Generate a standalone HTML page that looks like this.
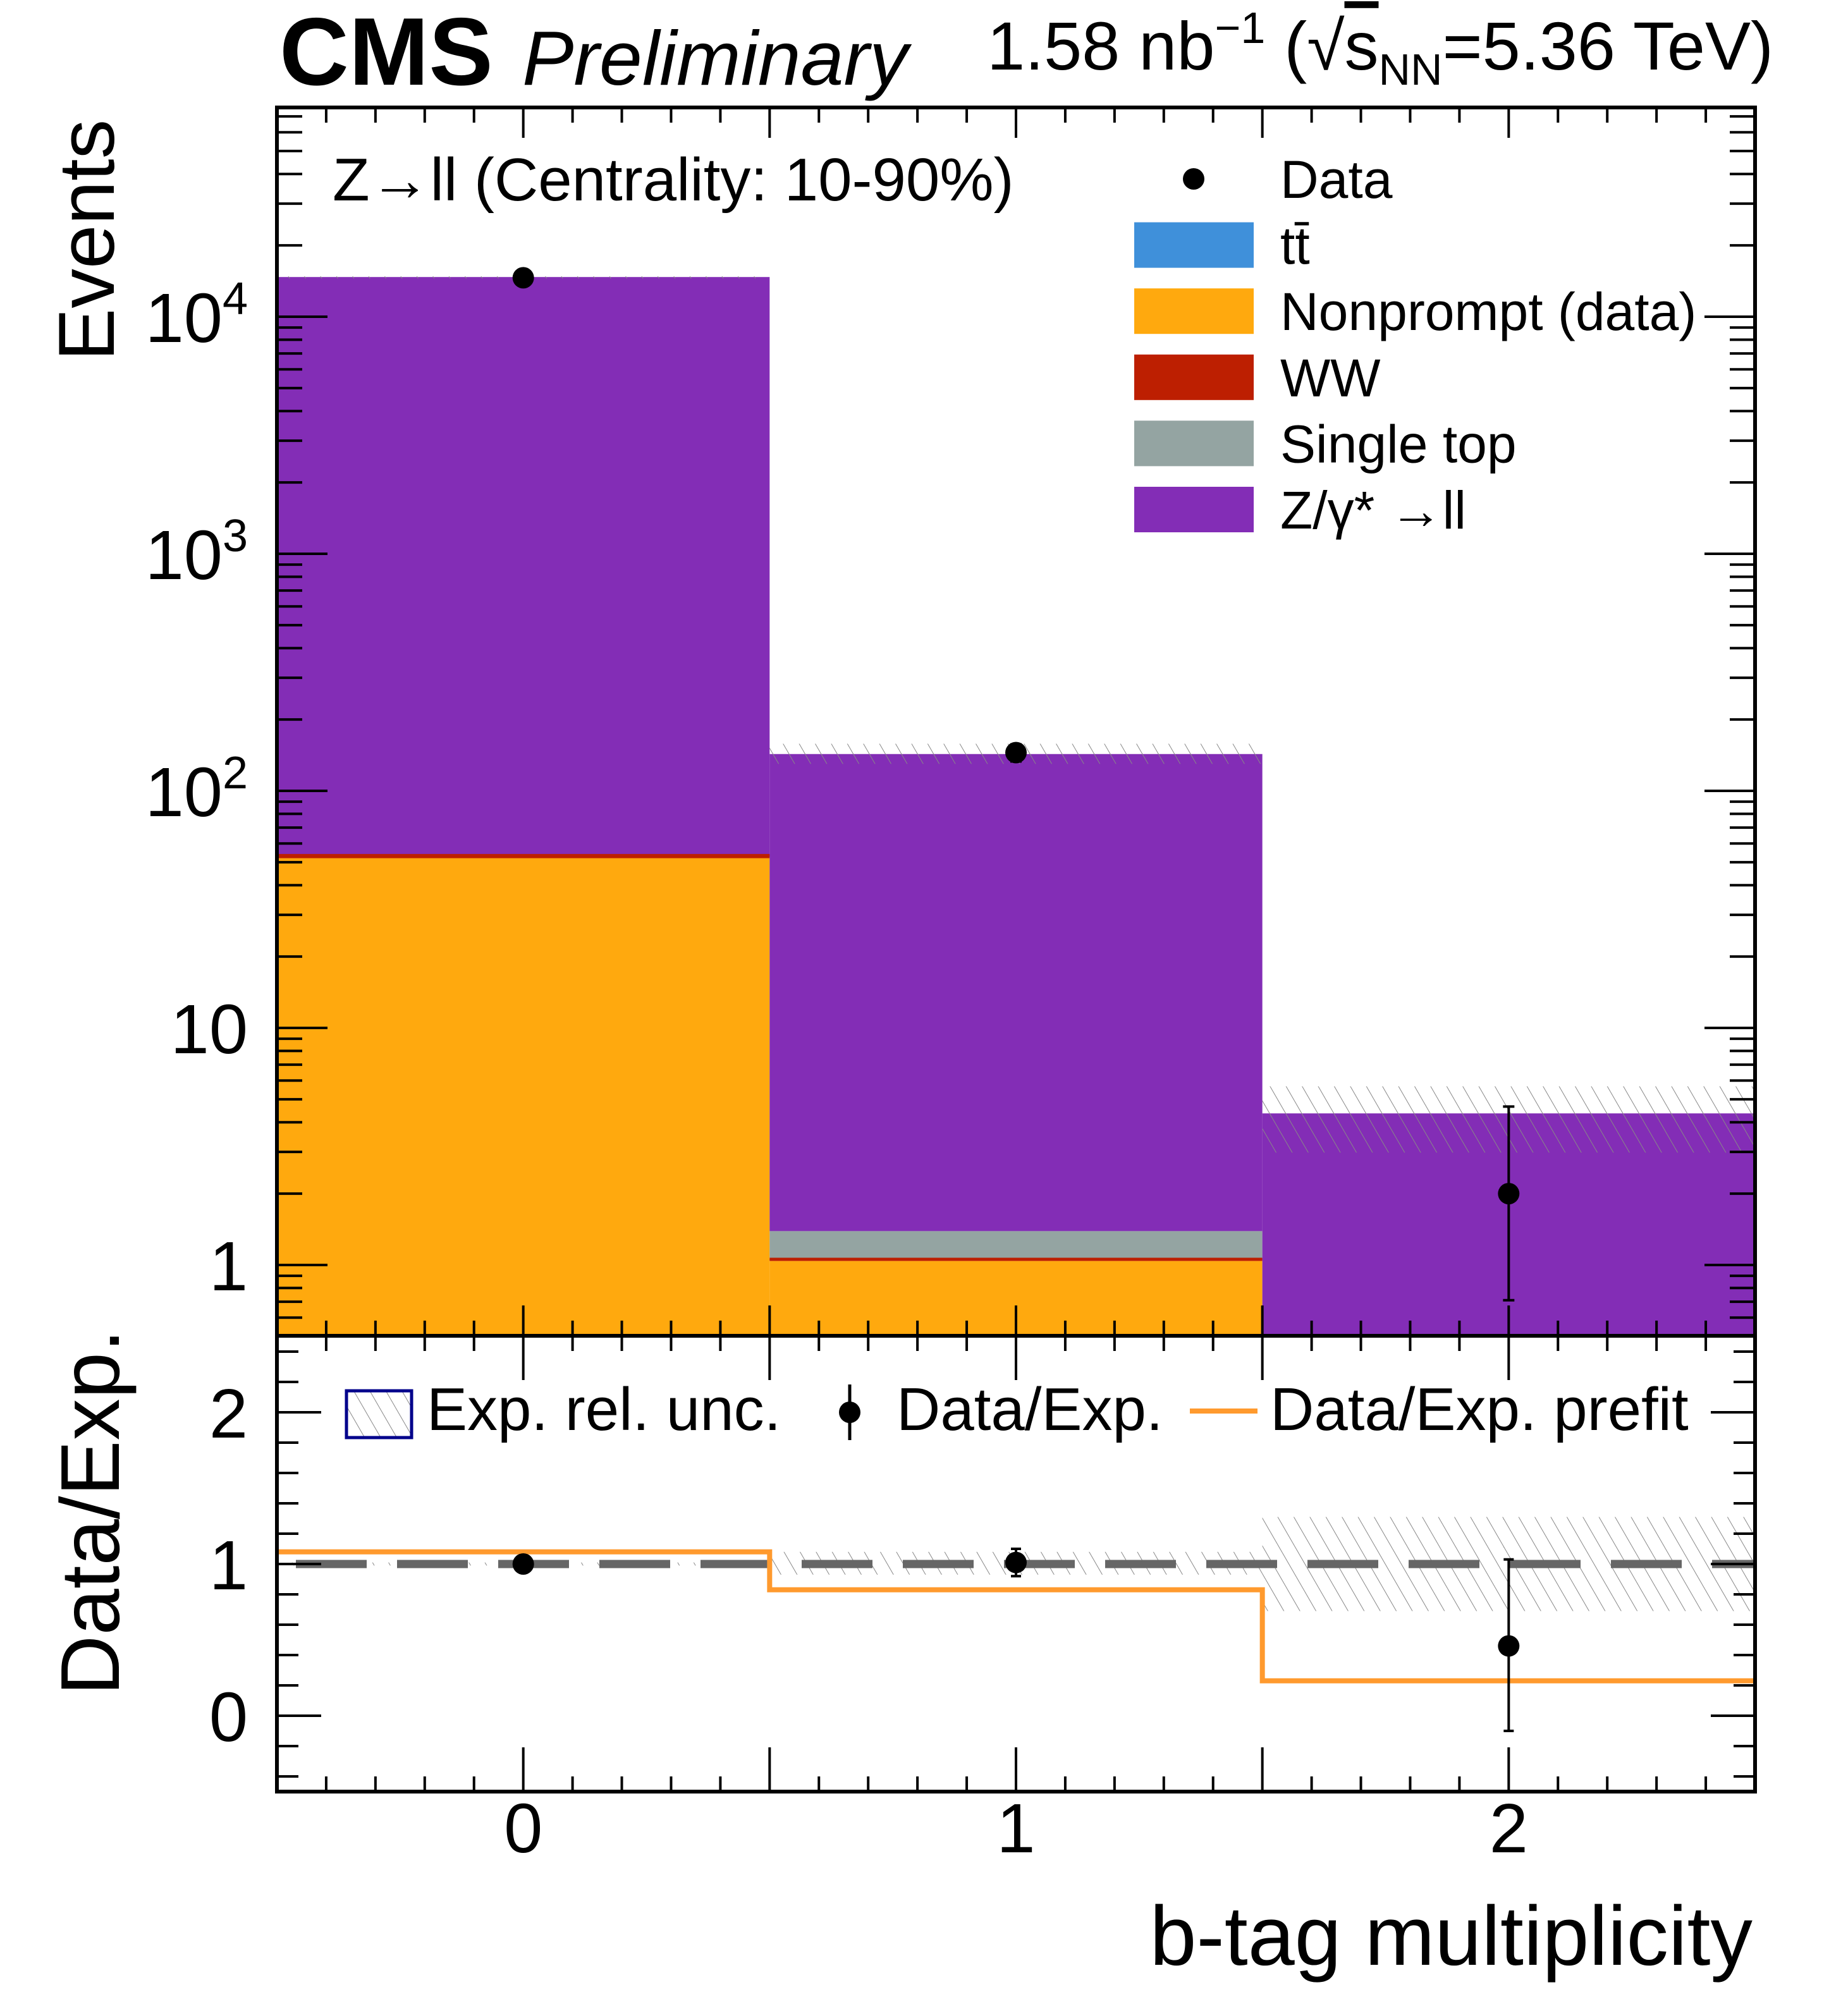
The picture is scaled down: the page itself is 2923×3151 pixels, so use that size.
<!DOCTYPE html>
<html><head><meta charset="utf-8"><style>
html,body{margin:0;padding:0;background:#fff}
svg{display:block;font-family:"Liberation Sans",sans-serif}
</style></head><body>
<svg id="c" width="2923" height="3151" viewBox="0 0 2923 3151" xmlns="http://www.w3.org/2000/svg">
<defs>
<pattern id="hatch" patternUnits="userSpaceOnUse" width="22" height="22" patternTransform="rotate(-30)">
<line x1="0" y1="0" x2="0" y2="22" stroke="#888" stroke-width="2"/>
</pattern>
</defs>
<g id="main"></g>
<text x="442" y="134" font-size="152" font-weight="bold">CMS</text>
<text x="826" y="134" font-size="122" font-style="italic">Preliminary</text>
<text x="2805" y="110" font-size="108" text-anchor="end">1.58 nb<tspan dy="-42" font-size="70">−1</tspan><tspan dy="42"> (√</tspan><tspan text-decoration="overline">s</tspan><tspan dy="24" font-size="70">NN</tspan><tspan dy="-24">=5.36 TeV)</tspan></text>
<text transform="translate(180,571) rotate(-90)" font-size="125">Events</text>
<text transform="translate(188,2682) rotate(-90)" font-size="132">Data/Exp.</text>
<text x="2772" y="3108" font-size="133" text-anchor="end">b-tag multiplicity</text>
<text x="526" y="317" font-size="96">Z→ll (Centrality: 10-90%)</text>
</svg>
<script>
const categories=[0,1,2];
const ttbar=[0.0,0.0,0.0];
const nonprompt=[52,1.04,0];
const ww=[1.5,0.02,0];
const singletop=[0.0,0.33,0];
const zll=[14650,141.6,4.36];
const uncUp=[14800,158,5.67];
const uncDown=[14500,130,2.98];
const dataVals=[14600,145,2.0];
const dataErrUp=[121,12,2.66];
const dataErrDown=[121,12,1.29];
const ratioVals=[1.0,1.01,0.46];
const ratioErrUp=[1.01,1.1,1.03];
const ratioErrDown=[0.99,0.92,-0.1];
const ratioUncUp=[1.01,1.08,1.31];
const ratioUncDown=[0.99,0.93,0.69];
const prefit=[1.08,0.83,0.23];
const logTicks=[1,10,100,1000,10000];
const logTickExps=["","","2","3","4"];
const ratioTicks=[0,1,2];

const NS="http://www.w3.org/2000/svg";
const g=document.getElementById('main');
const X0=438,X1=2776,MT=170,MB=2113,RB=2834;
function xs(v){return X0+(v+0.5)/3*(X1-X0);}
function ys(v){return 2001-375*Math.log10(v);}
function yr(v){return 2714-240*v;}
function mk(tag,a,parent){const e=document.createElementNS(NS,tag);for(const k in a)e.setAttribute(k,a[k]);(parent||g).appendChild(e);return e;}
function clampY(y){return Math.min(MB,Math.max(MT,y));}
const colors={nonprompt:"#ffa90e",ww:"#bd1f01",singletop:"#94a4a2",ttbar:"#3f90da",zll:"#832db6"};
categories.forEach((c,i)=>{
  const comps=[["nonprompt",nonprompt[i]],["ww",ww[i]],["singletop",singletop[i]],["ttbar",ttbar[i]],["zll",zll[i]]];
  let cum=0;
  comps.forEach(([n,v])=>{
    if(v<=0)return;
    const lo=cum; cum+=v;
    const y1=clampY(lo>0?ys(lo):MB), y2=clampY(ys(cum));
    const r=mk('rect',{x:xs(c-0.5),y:y2,width:xs(c+0.5)-xs(c-0.5),height:Math.max(0,y1-y2),fill:colors[n]});
    
    
  });
  if(nonprompt[i]>0){const l=mk('line',{x1:xs(c-0.5),x2:xs(c+0.5),y1:ys(nonprompt[i]+ww[i]),y2:ys(nonprompt[i]+ww[i]),stroke:"#bd1f01","stroke-width":4});
    
    }
  const u=mk('rect',{x:xs(c-0.5),y:ys(uncUp[i]),width:xs(c+0.5)-xs(c-0.5),height:ys(uncDown[i])-ys(uncUp[i]),fill:"url(#hatch)"});
  
  
  const ru=mk('rect',{x:xs(c-0.5),y:yr(ratioUncUp[i]),width:xs(c+0.5)-xs(c-0.5),height:yr(ratioUncDown[i])-yr(ratioUncUp[i]),fill:"url(#hatch)"});
  
  
});
const dl=mk('line',{x1:X0,x2:X1,y1:yr(1),y2:yr(1),stroke:"#666","stroke-width":13,"stroke-dasharray":"112 48","stroke-dashoffset":"-30"});


let pd="";
categories.forEach((c,i)=>{pd+=(i==0?"M":"L")+xs(c-0.5)+","+yr(prefit[i])+" L"+xs(c+0.5)+","+yr(prefit[i])+" ";});
const pl=mk('path',{d:pd,fill:"none",stroke:"#ff9a2e","stroke-width":8});


categories.forEach((c,i)=>{
  const x=xs(c);
  const up=dataVals[i]+dataErrUp[i], dn=Math.max(0.3,dataVals[i]-dataErrDown[i]);
  const e=mk('line',{x1:x,x2:x,y1:clampY(ys(up)),y2:clampY(ys(dn)),stroke:"#000","stroke-width":4});
  
  
  [up,dn].forEach(v=>{const t=mk('line',{x1:x-9,x2:x+9,y1:ys(v),y2:ys(v),stroke:"#000","stroke-width":4});});
  const p=mk('circle',{cx:x,cy:ys(dataVals[i]),r:17,fill:"#000"});
  
  
  const re=mk('line',{x1:x,x2:x,y1:yr(ratioErrUp[i]),y2:yr(ratioErrDown[i]),stroke:"#000","stroke-width":4});
  
  
  [ratioErrUp[i],ratioErrDown[i]].forEach(v=>{const t=mk('line',{x1:x-8,x2:x+8,y1:yr(v),y2:yr(v),stroke:"#000","stroke-width":4});});
  const rp=mk('circle',{cx:x,cy:yr(ratioVals[i]),r:17,fill:"#000"});
  
  
});
[[MT,MB],[MB,RB]].forEach(([t,b],k)=>{
  const f=mk('rect',{x:X0,y:t,width:X1-X0,height:b-t,fill:"none",stroke:"#000","stroke-width":6});
  
  
  for(let r=-5;r<=25;r++){
    const v=r/10;const major=(((r%5)+5)%5===0);
    const L=major?(k?70:48):24;
    mk('line',{x1:xs(v),x2:xs(v),y1:b,y2:b-L,stroke:"#000","stroke-width":4});
    mk('line',{x1:xs(v),x2:xs(v),y1:t,y2:t+L,stroke:"#000","stroke-width":4});
  }
});
for(let d=-1;d<5;d++){for(let m=1;m<10;m++){const v=m*Math.pow(10,d);const y=ys(v);if(y<MT||y>MB)continue;const L=m===1?80:40;
  mk('line',{x1:X0,x2:X0+L,y1:y,y2:y,stroke:"#000","stroke-width":4});
  mk('line',{x1:X1,x2:X1-L,y1:y,y2:y,stroke:"#000","stroke-width":4});}}
logTicks.forEach((v,i)=>{const ex=logTickExps[i];const t=mk('text',{x:392,y:ys(v)+40,"font-size":110,"text-anchor":"end"});
  if(ex){t.appendChild(document.createTextNode("10"));const s=mk('tspan',{dy:-44,"font-size":72},t);s.textContent=ex;}else t.textContent=String(v);
  
  });
for(let r=-2;r<=12;r++){const v=r/5;const y=yr(v);if(y<MB+2||y>RB-2)continue;const major=(r%5===0);const L=major?70:34;
  mk('line',{x1:X0,x2:X0+L,y1:y,y2:y,stroke:"#000","stroke-width":4});
  mk('line',{x1:X1,x2:X1-L,y1:y,y2:y,stroke:"#000","stroke-width":4});}
ratioTicks.forEach(v=>{const t=mk('text',{x:392,y:yr(v)+40,"font-size":110,"text-anchor":"end"});t.textContent=String(v);
  
  });
categories.forEach(c=>{const t=mk('text',{x:xs(c),y:2930,"font-size":110,"text-anchor":"middle"});t.textContent=String(c);
  
  });
const leg=[["Data",null],["tt̄","#3f90da"],["Nonprompt (data)","#ffa90e"],["WW","#bd1f01"],["Single top","#94a4a2"],["Z/γ* →ll","#832db6"]];
leg.forEach(([lab,col],i)=>{const y=283+i*104.6;
  if(col){const r=mk('rect',{x:1794,y:y-36,width:189,height:72,fill:col});}
  else{const c=mk('circle',{cx:1888,cy:y,r:17,fill:"#000"});}
  const t=mk('text',{x:2025,y:y+30,"font-size":84});t.textContent=lab;
  
  });
const lb=mk('rect',{x:548,y:2200,width:103,height:74,fill:"url(#hatch)",stroke:"#00008b","stroke-width":5});


mk('line',{x1:1344,x2:1344,y1:2190,y2:2278,stroke:"#000","stroke-width":5});
const lm=mk('circle',{cx:1344,cy:2234,r:17,fill:"#000"});


const lo=mk('line',{x1:1882,x2:1989,y1:2232,y2:2232,stroke:"#ff9a2e","stroke-width":8});


[["Exp. rel. unc.",675],["Data/Exp.",1418],["Data/Exp. prefit",2009]].forEach(([s,x])=>{const t=mk('text',{x:x,y:2262,"font-size":96});t.textContent=s;
  
  });
</script>
</body></html>
